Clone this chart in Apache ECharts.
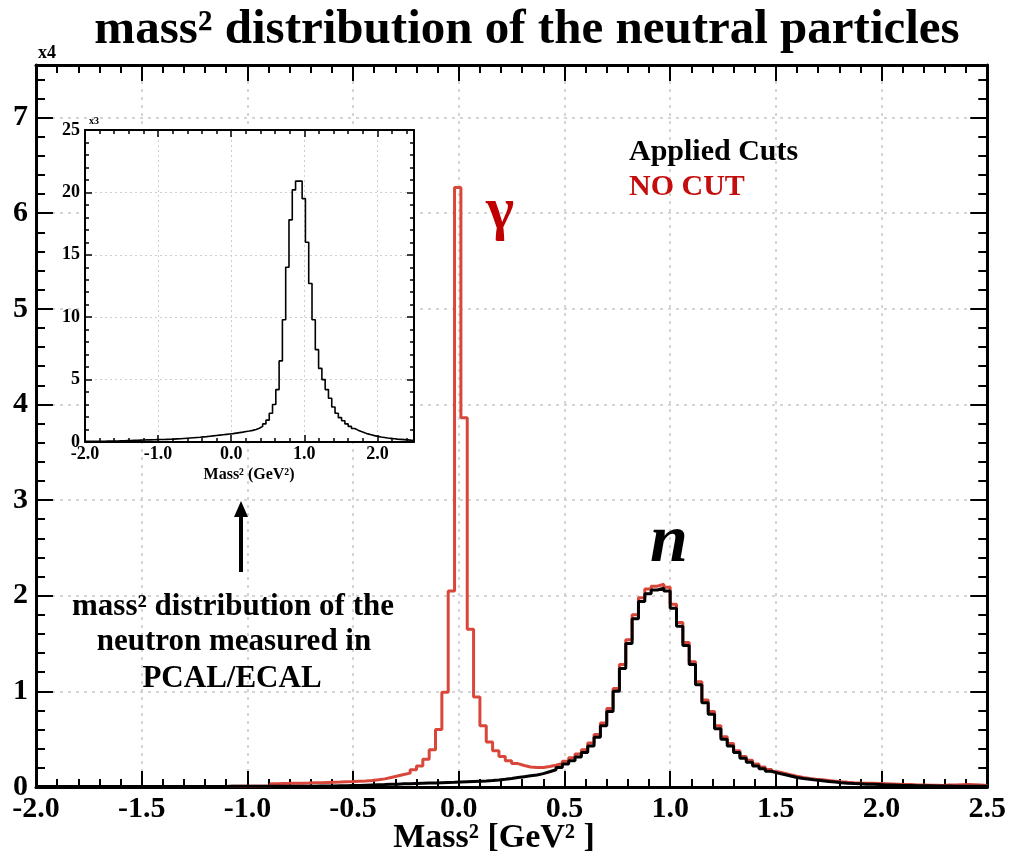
<!DOCTYPE html>
<html><head><meta charset="utf-8">
<script src="https://cdn.jsdelivr.net/npm/echarts@6/dist/echarts.min.js"></script>
<style>html,body{margin:0;padding:0;background:#fff}#c{width:1009px;height:857px}</style>
</head><body><div id="c"></div>
<script>
const FONT = '"Liberation Serif", "Times New Roman", serif';

// ---------- main histograms (units of 10^4), bins of 0.03 starting at -2.0 ----------
const binStart = -2.0, binWidth = 0.03;
const noCut = [
  0.004,0.004,0.004,0.004,0.004,0.004,0.004,0.004,0.004,0.004,
  0.005,0.005,0.005,0.005,0.005,0.005,0.005,0.005,0.005,0.005,
  0.006,0.006,0.006,0.006,0.006,0.006,0.006,0.006,0.006,0.006,
  0.007,0.007,0.007,0.007,0.007,0.007,0.007,
  0.035,0.037,0.038,0.040,0.040,0.042,
  0.045,0.045,0.048,0.050,
  0.052,0.055,0.057,0.060,0.063,0.067,0.075,
  0.085,0.100,0.115,0.130,
  0.145,0.180,0.220,0.290,0.390,
  0.600,0.990,2.050,6.270,
  3.860,1.650,0.940,0.640,
  0.470,0.380,0.320,0.275,0.245,0.225,0.210,0.205,0.205,
  0.215,0.228,0.245,0.270,0.305,0.345,0.390,0.460,0.550,0.670,
  0.820,1.030,1.280,1.540,1.800,1.980,2.070,2.100,2.120,2.090,
  1.910,1.720,1.510,1.310,1.100,0.910,0.790,0.640,0.525,0.455,
  0.380,0.320,0.280,0.240,0.208,0.182,0.160,0.145,0.128,0.113,
  0.100,0.090,0.082,0.075,0.068,0.061,0.054,0.049,0.045,0.042,
  0.040,0.038,0.036,0.034,0.032,0.030,0.027,0.025,0.022,0.020,
  0.018,0.017,0.016,0.020,0.022,0.024,0.025,0.024,0.020,0.015
];
const applied = [
  0.004,0.004,0.004,0.004,0.004,0.004,0.004,0.004,0.004,0.004,
  0.005,0.005,0.005,0.005,0.005,0.005,0.005,0.005,0.005,0.005,
  0.006,0.006,0.006,0.006,0.006,0.006,0.006,0.006,0.006,0.006,
  0.007,0.007,0.007,0.007,0.007,0.007,0.007,
  0.008,0.008,0.008,0.008,0.008,0.008,
  0.009,0.010,0.010,0.011,
  0.012,0.013,0.015,0.017,0.019,0.021,0.023,
  0.025,0.028,0.030,0.033,
  0.035,0.037,0.039,0.041,0.043,
  0.045,0.047,0.049,0.052,
  0.055,0.058,0.061,0.064,
  0.068,0.073,0.080,0.089,0.099,0.108,0.117,0.126,0.140,
  0.160,0.180,0.205,0.240,0.275,0.315,0.360,0.430,0.520,0.640,
  0.790,1.000,1.240,1.500,1.760,1.940,2.020,2.060,2.080,2.050,
  1.870,1.680,1.480,1.280,1.070,0.880,0.760,0.610,0.500,0.430,
  0.360,0.300,0.260,0.220,0.190,0.165,0.145,0.130,0.115,0.100,
  0.088,0.080,0.072,0.065,0.058,0.052,0.045,0.040,0.036,0.033,
  0.030,0.028,0.026,0.022,0.020,0.018,0.016,0.015,0.014,0.013,
  0.012,0.011,0.010,0.010,0.009,0.009,0.008,0.008,0.007,0.007
];

// ---------- inset histogram (units of 10^3), bins of 0.045 starting at -2.0 ----------
const insetStart = -2.0, insetWidth = 0.045;
const insetCounts = [
  0.05,0.05,0.05,0.06,0.06,0.06,0.07,0.07,0.08,0.08,0.09,0.10,0.11,0.12,0.13,
  0.14,0.15,0.16,0.17,0.17,0.18,0.19,0.20,0.20,0.21,
  0.22,0.23,0.25,0.26,0.28,0.30,0.32,0.34,0.36,0.38,
  0.41,0.43,0.46,0.49,0.52,0.55,0.58,0.61,0.64,0.67,
  0.71,0.75,0.79,0.84,0.88,0.93,1.00,1.10,1.25,1.45,
  1.75,2.30,3.00,4.20,6.50,9.80,14.0,17.8,20.2,20.9,
  20.9,19.5,16.0,12.7,9.8,7.4,5.9,5.0,4.2,3.5,
  2.8,2.3,1.95,1.70,1.45,1.25,1.08,0.95,0.84,0.74,
  0.65,0.58,0.51,0.45,0.40,0.36,0.32,0.29,0.26,0.23,
  0.21,0.19,0.17,0.15,0.14
];

// ---------- axis settings ----------
const mainX = { min: -2.0, max: 2.5, interval: 0.5, minor: 0.1 };
const mainY = { min: 0, max: 7.55, interval: 1, minor: 0.2 };
const insetX = { min: -2.0, max: 2.5, interval: 1, minor: 0.2 };
const insetY = { min: 0, max: 25, interval: 5, minor: 1 };

function steps(vals, start, w) {
  const d = vals.map((v, i) => [+(start + i * w).toFixed(5), v]);
  d.push([+(start + vals.length * w).toFixed(5), vals[vals.length - 1]]);
  return d;
}

const chart = echarts.init(document.getElementById('c'), null, { renderer: 'canvas' });

const black = '#000';
const lblMain = { fontFamily: FONT, fontWeight: 'bold', fontSize: 30, color: black };
const lblInset = { fontFamily: FONT, fontWeight: 'bold', fontSize: 18, color: black };
const gridDash = { color: '#c8c8c8', width: 1.5, type: [3, 5] };
const gridDot = { color: '#cfcfcf', width: 1, type: [2, 3] };
const noLine = { show: false, onZero: false };

function tickAxis(base, o) { return Object.assign({ type: 'value' }, base, o); }

const option = {
  animation: false,
  backgroundColor: '#fff',
  grid: [
    { left: 36, top: 65, right: 20, bottom: 70, containLabel: false },
    { left: 85, top: 130, right: 595, bottom: 415, containLabel: false, show: true, backgroundColor: '#fff', borderWidth: 0, z: 3 }
  ],
  xAxis: [
    tickAxis({ gridIndex: 0, position: 'bottom', min: mainX.min, max: mainX.max, interval: mainX.interval }, {
      axisLine: { show: true, onZero: false, lineStyle: { color: black, width: 3 } },
      axisTick: { show: true, inside: true, length: 16, lineStyle: { color: black, width: 2 } },
      minorTick: { show: true, splitNumber: 5, length: 8, lineStyle: { color: black, width: 2 } },
      axisLabel: Object.assign({ margin: 7, formatter: v => v.toFixed(1) }, lblMain),
      splitLine: { show: true, lineStyle: gridDash }
    }),
    tickAxis({ gridIndex: 0, position: 'top', min: mainX.min, max: mainX.max, interval: mainX.interval }, {
      axisLine: { show: true, onZero: false, lineStyle: { color: black, width: 3 } },
      axisTick: { show: true, inside: true, length: 16, lineStyle: { color: black, width: 2 } },
      minorTick: { show: true, splitNumber: 5, length: 8, lineStyle: { color: black, width: 2 } },
      axisLabel: { show: false }, splitLine: { show: false }
    }),
    tickAxis({ gridIndex: 1, position: 'bottom', min: insetX.min, max: insetX.max, interval: insetX.interval, z: 4 }, {
      axisLine: { show: true, onZero: false, lineStyle: { color: black, width: 2 } },
      axisTick: { show: true, inside: true, length: 7, lineStyle: { color: black, width: 1.5 } },
      axisLabel: Object.assign({ margin: 3, showMaxLabel: false, formatter: v => v.toFixed(1) }, lblInset),
      splitLine: { show: true, lineStyle: gridDot }
    }),
    tickAxis({ gridIndex: 1, position: 'bottom', min: insetX.min, max: insetX.max, interval: insetX.minor, z: 4 }, {
      axisLine: noLine, axisLabel: { show: false }, splitLine: { show: false },
      axisTick: { show: true, inside: true, length: 4, lineStyle: { color: black, width: 1.5 } }
    }),
    tickAxis({ gridIndex: 1, position: 'top', min: insetX.min, max: insetX.max, interval: insetX.interval, z: 4 }, {
      axisLine: { show: true, onZero: false, lineStyle: { color: black, width: 2 } },
      axisTick: { show: true, inside: true, length: 7, lineStyle: { color: black, width: 1.5 } },
      axisLabel: { show: false }, splitLine: { show: false }
    }),
    tickAxis({ gridIndex: 1, position: 'top', min: insetX.min, max: insetX.max, interval: insetX.minor, z: 4 }, {
      axisLine: noLine, axisLabel: { show: false }, splitLine: { show: false },
      axisTick: { show: true, inside: true, length: 4, lineStyle: { color: black, width: 1.5 } }
    })
  ],
  yAxis: [
    tickAxis({ gridIndex: 0, position: 'left', min: mainY.min, max: mainY.max, interval: mainY.interval }, {
      axisLine: { show: true, onZero: false, lineStyle: { color: black, width: 3 } },
      axisTick: { show: true, inside: true, length: 17, lineStyle: { color: black, width: 2 } },
      axisLabel: Object.assign({ margin: 8, showMaxLabel: false }, lblMain),
      splitLine: { show: true, lineStyle: gridDash }
    }),
    tickAxis({ gridIndex: 0, position: 'left', min: mainY.min, max: mainY.max, interval: mainY.minor }, {
      axisLine: noLine, axisLabel: { show: false }, splitLine: { show: false },
      axisTick: { show: true, inside: true, length: 9, lineStyle: { color: black, width: 2 } }
    }),
    tickAxis({ gridIndex: 0, position: 'right', min: mainY.min, max: mainY.max, interval: mainY.interval }, {
      axisLine: { show: true, onZero: false, lineStyle: { color: black, width: 3 } },
      axisTick: { show: true, inside: true, length: 17, lineStyle: { color: black, width: 2 } },
      axisLabel: { show: false }, splitLine: { show: false }
    }),
    tickAxis({ gridIndex: 0, position: 'right', min: mainY.min, max: mainY.max, interval: mainY.minor }, {
      axisLine: noLine, axisLabel: { show: false }, splitLine: { show: false },
      axisTick: { show: true, inside: true, length: 9, lineStyle: { color: black, width: 2 } }
    }),
    tickAxis({ gridIndex: 1, position: 'left', min: insetY.min, max: insetY.max, interval: insetY.interval, z: 4 }, {
      axisLine: { show: true, onZero: false, lineStyle: { color: black, width: 2 } },
      axisTick: { show: true, inside: true, length: 7, lineStyle: { color: black, width: 1.5 } },
      minorTick: { show: true, splitNumber: 5, length: 4, lineStyle: { color: black, width: 1.5 } },
      axisLabel: Object.assign({ margin: 5 }, lblInset),
      splitLine: { show: true, lineStyle: gridDot }
    }),
    tickAxis({ gridIndex: 1, position: 'right', min: insetY.min, max: insetY.max, interval: insetY.interval, z: 4 }, {
      axisLine: { show: true, onZero: false, lineStyle: { color: black, width: 2 } },
      axisTick: { show: true, inside: true, length: 7, lineStyle: { color: black, width: 1.5 } },
      minorTick: { show: true, splitNumber: 5, length: 4, lineStyle: { color: black, width: 1.5 } },
      axisLabel: { show: false }, splitLine: { show: false }
    })
  ],
  series: [
    { name: 'NO CUT', type: 'line', xAxisIndex: 0, yAxisIndex: 0, step: 'end', symbol: 'none',
      lineStyle: { color: '#d9473b', width: 3 }, data: steps(noCut, binStart, binWidth), z: 2, silent: true },
    { name: 'Applied Cuts', type: 'line', xAxisIndex: 0, yAxisIndex: 0, step: 'end', symbol: 'none',
      lineStyle: { color: '#000', width: 3 }, data: steps(applied, binStart, binWidth), z: 3, silent: true },
    { name: 'inset', type: 'line', xAxisIndex: 2, yAxisIndex: 4, step: 'end', symbol: 'none',
      lineStyle: { color: '#000', width: 1.6 }, data: steps(insetCounts, insetStart, insetWidth), z: 5, silent: true }
  ],
  graphic: [
    { type: 'text', x: 527, y: 30, style: { text: 'mass² distribution of the neutral particles', font: 'bold 49px ' + FONT, fill: black, align: 'center', verticalAlign: 'middle' }, z: 10 },
    { type: 'text', x: 38, y: 44, style: { text: 'x4', font: 'bold 18px ' + FONT, fill: black }, z: 10 },
    { type: 'text', x: 89, y: 116, style: { text: 'x3', font: 'bold 10px ' + FONT, fill: black }, z: 10 },
    { type: 'text', x: 494, y: 838, style: { text: 'Mass² [GeV² ]', font: 'bold 34px ' + FONT, fill: black, align: 'center', verticalAlign: 'middle' }, z: 10 },
    { type: 'text', x: 249, y: 475, style: { text: 'Mass² (GeV²)', font: 'bold 16px ' + FONT, fill: black, align: 'center', verticalAlign: 'middle' }, z: 10 },
    { type: 'text', x: 629, y: 152, style: { text: 'Applied Cuts', font: 'bold 30px ' + FONT, fill: black, verticalAlign: 'middle' }, z: 10 },
    { type: 'text', x: 629, y: 187, style: { text: 'NO CUT', font: 'bold 30px ' + FONT, fill: '#c40d0d', verticalAlign: 'middle' }, z: 10 },
    { type: 'text', x: 500, y: 212, style: { text: 'γ', font: 'bold 60px ' + FONT, fill: '#c00000', align: 'center', verticalAlign: 'middle' }, z: 10 },
    { type: 'text', x: 669, y: 543, style: { text: 'n', font: 'bold italic 68px ' + FONT, fill: black, align: 'center', verticalAlign: 'middle' }, z: 10 },
    { type: 'text', x: 233, y: 607, style: { text: 'mass² distribution of the', font: 'bold 31px ' + FONT, fill: black, align: 'center', verticalAlign: 'middle' }, z: 10 },
    { type: 'text', x: 234, y: 642, style: { text: 'neutron measured in', font: 'bold 31px ' + FONT, fill: black, align: 'center', verticalAlign: 'middle' }, z: 10 },
    { type: 'text', x: 232, y: 679, style: { text: 'PCAL/ECAL', font: 'bold 31px ' + FONT, fill: black, align: 'center', verticalAlign: 'middle' }, z: 10 },
    { type: 'line', shape: { x1: 241, y1: 572, x2: 241, y2: 514 }, style: { stroke: black, lineWidth: 4 }, z: 10 },
    { type: 'polygon', shape: { points: [[234, 517], [248, 517], [241, 501]] }, style: { fill: black }, z: 10 }
  ]
};
chart.setOption(option);
</script>
</body></html>
